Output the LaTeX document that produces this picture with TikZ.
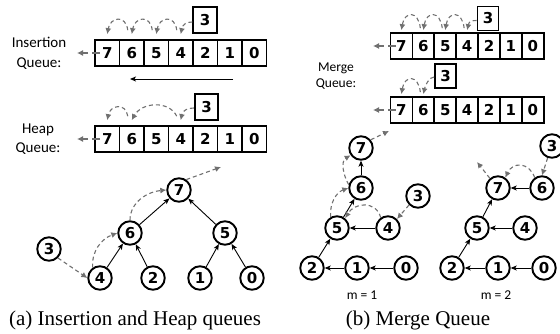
\documentclass[tikz,border=0pt]{standalone}
\usepackage{fontspec}
\setmainfont{Liberation Serif}
\newfontfamily\labf{Carlito}
\newfontfamily\numf{DejaVu Sans}
\usetikzlibrary{arrows.meta,calc}
\definecolor{dg}{RGB}{112,112,112}
\begin{document}
\begin{tikzpicture}[x=1pt,y=1pt,
  numfont/.style={font={\numf\bfseries\fontsize{15}{17}\selectfont}},
  cellL/.style={draw,line width=1.7pt,minimum width=24.5pt,minimum height=26pt,inner sep=0pt,numfont},
  cellR/.style={draw,line width=1.7pt,minimum width=21.9pt,minimum height=26pt,inner sep=0pt,numfont},
  boxL/.style={draw,line width=1.7pt,minimum width=23.5pt,minimum height=26.5pt,inner sep=0pt,numfont},
  boxR/.style={draw,line width=1.7pt,minimum width=21pt,minimum height=24pt,inner sep=0pt,numfont},
  vtx/.style={circle,draw,line width=1.9pt,minimum size=23.5pt,inner sep=0pt,numfont},
  lab/.style={align=center,font={\labf\fontsize{15}{19.5}\selectfont}},
  garr/.style={draw=dg,line width=1.1pt,dash pattern=on 4pt off 3pt,-{Latex[length=6pt,width=6pt]}},
  garrs/.style={garr,dash pattern=on 8pt off 4pt},
  barr/.style={draw=black,line width=0.9pt,-{Stealth[length=6pt,width=5pt,inset=1.5pt]}},
  captxt/.style={font={\fontsize{21}{24}\selectfont}}]
\useasboundingbox (0,0) rectangle (560,-334);

% ---------------- Insertion queue ----------------
\node[lab] (lins) at (39,-53.5) {Insertion\\Queue:};
\foreach \v [count=\i] in {7,6,5,4,2,1,0}
  \node[cellL] (p\i) at ({95+(\i-0.5)*24.5},-53) {\v};
\node[boxL] (b1) at (205,-20) {3};
\draw[garr] ($(b1.west)+(0,-2)$) .. controls +(-6,0) and +(2,10) .. ($(p4.north)+(0,5)$);
\foreach \a/\b in {4/3,3/2,2/1}
  \draw[garr] ($(p\a.north)+(-4,9)$) .. controls +(-2,16) and +(3,17) .. ($(p\b.north)+(0,5)$);
\coordinate (o1) at (77,-53);
\draw[garrs] ($(p1.west)+(6,0)$) -- (o1);
\coordinate (ar1a) at (233,-79);
\coordinate (ar1b) at (130,-79);
\draw[barr] (ar1a) -- (ar1b);

% ---------------- Heap queue ----------------
\node[lab] (lheap) at (38,-139) {Heap\\Queue:};
\foreach \v [count=\i] in {7,6,5,4,2,1,0}
  \node[cellL] (q\i) at ({95+(\i-0.5)*24.5},-139) {\v};
\node[boxL] (b2) at (206.5,-107) {3};
\draw[garr] ($(b2.west)+(0,-1)$) .. controls +(-6,0) and +(2,10) .. ($(q4.north)+(0,5)$);
\draw[garr] ($(q4.north)+(-4,9)$) .. controls +(-8,16) and +(10,18) .. ($(q2.north)+(0,5)$);
\draw[garr] ($(q2.north)+(-4,9)$) .. controls +(-2,14) and +(3,15) .. ($(q1.north)+(0,5)$);
\coordinate (o2) at (77,-139);
\draw[garrs] ($(q1.west)+(6,0)$) -- (o2);

% ---------------- Heap tree ----------------
\node[vtx] (h7) at (179,-190) {7};
\node[vtx] (h6) at (130,-233) {6};
\node[vtx] (h5) at (225,-233) {5};
\node[vtx] (h3) at (49,-249) {3};
\node[vtx] (h4) at (100,-278) {4};
\node[vtx] (h2) at (153,-278) {2};
\node[vtx] (h1) at (200,-278) {1};
\node[vtx] (h0) at (252,-278) {0};
\draw[barr] (h4) -- (h6);
\draw[barr] (h2) -- (h6);
\draw[barr] (h1) -- (h5);
\draw[barr] (h0) -- (h5);
\draw[barr] (h6) -- (h7);
\draw[barr] (h5) -- (h7);
\draw[garr] (h3.-45) -- (h4.west);
\draw[garr] (h4.125) to[out=95,in=200] (h6.west);
\draw[garr] (h6.north) to[out=90,in=185] (h7.west);
\coordinate (h7o) at (221,-167);
\draw[garr] (h7.55) -- (h7o);

% ---------------- Merge queues ----------------
\node[lab,font={\labf\fontsize{13.5}{16}\selectfont}] (lmerge) at (336,-76.5) {Merge\\Queue:};
\foreach \v [count=\i] in {7,6,5,4,2,1,0}
  \node[cellR] (r\i) at ({390.5+(\i-0.5)*21.9},-46) {\v};
\node[boxR] (b3) at (488,-18.5) {3};
\draw[garr] ($(b3.west)+(0,-2)$) .. controls +(-5,0) and +(2,9) .. ($(r4.north)+(0,2)$);
\foreach \a/\b in {4/3,3/2,2/1}
  \draw[garr] ($(r\a.north)+(-3,4)$) .. controls +(-2,18) and +(3,19) .. ($(r\b.north)+(0,2)$);
\coordinate (o3) at (373,-46);
\draw[garrs] ($(r1.west)+(6,0)$) -- (o3);

\foreach \v [count=\i] in {7,6,5,4,2,1,0}
  \node[cellR] (s\i) at ({390.5+(\i-0.5)*21.9},-110) {\v};
\node[boxR] (b4) at (445.5,-76) {3};
\draw[garr] ($(b4.west)+(0,-1)$) .. controls +(-5,0) and +(2,9) .. ($(s2.north)+(0,2)$);
\draw[garr] ($(s2.north)+(-3,4)$) .. controls +(-2,18) and +(3,19) .. ($(s1.north)+(0,2)$);
\coordinate (o4) at (373,-110);
\draw[garrs] ($(s1.west)+(6,0)$) -- (o4);

% ---------------- Merge tree m = 1 ----------------
\node[vtx] (m7) at (361,-148) {7};
\node[vtx] (m6) at (361,-188) {6};
\node[vtx] (m5) at (337,-228) {5};
\node[vtx] (m4) at (388,-228) {4};
\node[vtx] (m3) at (418,-196) {3};
\node[vtx] (m2) at (312,-268) {2};
\node[vtx] (m1) at (357,-268) {1};
\node[vtx] (m0) at (406,-268) {0};
\draw[barr] (m0) -- (m1);
\draw[barr] (m1) -- (m2);
\draw[barr] (m2) -- (m5);
\draw[barr] (m4) -- (m5);
\draw[barr] (m5) -- (m6);
\draw[barr] (m6) -- (m7);
\draw[garr] (m3.225) -- (m4.45);
\draw[garr] (m4.125) to[out=105,in=60,looseness=1.3] (m5.50);
\draw[garr] (m5.120) to[out=95,in=200] (m6.west);
\draw[garr] (m6.165) to[out=120,in=210] (m7.215);
\coordinate (m7o) at (389,-131);
\draw[garr] (m7.40) -- (m7o);
\node[lab,font={\labf\fontsize{13.5}{15}\selectfont}] (lm1) at (362,-295) {m = 1};

% ---------------- Merge tree m = 2 ----------------
\node[vtx] (n7) at (498,-188) {7};
\node[vtx] (n6) at (542,-188) {6};
\node[vtx] (n3) at (552,-146) {3};
\node[vtx] (n5) at (477,-228) {5};
\node[vtx] (n4) at (525,-228) {4};
\node[vtx] (n2) at (452,-268) {2};
\node[vtx] (n1) at (498,-268) {1};
\node[vtx] (n0) at (544,-268) {0};
\draw[barr] (n0) -- (n1);
\draw[barr] (n1) -- (n2);
\draw[barr] (n2) -- (n5);
\draw[barr] (n4) -- (n5);
\draw[barr] (n5) -- (n7);
\draw[barr] (n6) -- (n7);
\draw[garr] (n3.250) -- (n6.north);
\draw[garr] (n6.125) to[out=110,in=65,looseness=1.5] (n7.55);
\coordinate (n7o) at (477,-162);
\draw[garr] (n7.130) -- (n7o);
\node[lab,font={\labf\fontsize{13.5}{15}\selectfont}] (lm2) at (496,-295) {m = 2};

% ---------------- Captions ----------------
\node[captxt] (capa) at (135,-320) {(a) Insertion and Heap queues};
\node[captxt] (capb) at (418,-320) {(b) Merge Queue};
\end{tikzpicture}
\end{document}
